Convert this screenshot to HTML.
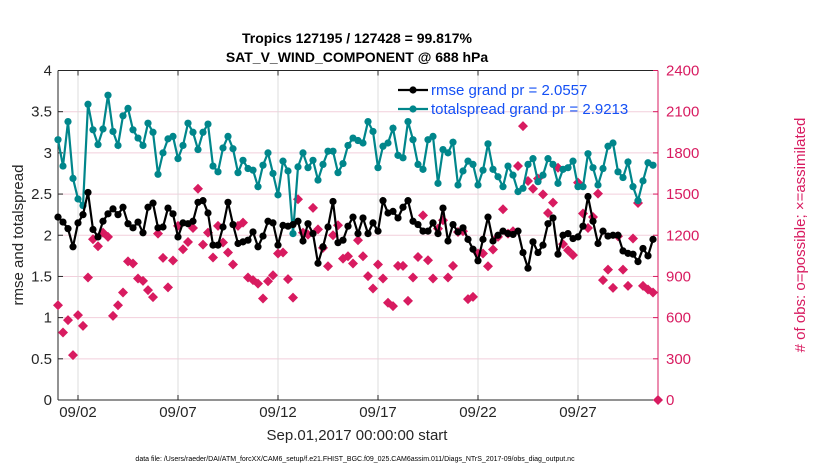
<!DOCTYPE html>
<html><head><meta charset="utf-8"><style>
body{margin:0;background:#fff;width:830px;height:470px;overflow:hidden}
text{font-family:"Liberation Sans",sans-serif}
</style></head><body>
<svg id="c" width="830" height="470" xmlns="http://www.w3.org/2000/svg"></svg>
<script>
const dayTicks=[2,7,12,17,22,27];
const dayLabels=["09/02","09/07","09/12","09/17","09/22","09/27"];
const leftTicks=[0,0.5,1,1.5,2,2.5,3,3.5,4];
const rightTicks=[0,300,600,900,1200,1500,1800,2100,2400];
const rmse=[2.22,2.16,2.08,1.86,2.15,2.25,2.52,2.07,1.98,2.17,2.26,2.32,2.25,2.34,2.14,2.09,2.16,2.03,2.34,2.39,2.09,2.1,2.33,2.26,1.98,2.15,2.14,2.17,2.4,2.42,2.27,1.88,1.88,2.1,2.4,2.13,1.9,1.92,1.94,2.04,1.86,1.99,2.17,2.15,1.88,2.12,2.11,2.13,2.17,1.93,2.14,2.02,1.66,1.86,2.1,2.41,1.91,1.94,2.11,2.22,2.02,2.21,2.02,2.15,2.05,2.42,2.27,2.29,2.21,2.34,2.42,2.17,2.13,2.05,2.05,2.15,2.02,2.33,1.93,2.13,2.04,2.09,1.95,1.83,1.69,1.95,2.22,1.93,2.0,2.05,2.02,2.01,2.05,1.79,1.6,1.92,1.79,1.88,2.14,2.21,1.77,2.0,2.02,1.96,1.98,2.11,2.47,2.17,1.9,2.05,1.99,2.0,2.0,1.81,1.78,1.77,1.68,1.84,1.75,1.95];
const spread=[3.16,2.84,3.38,2.69,2.44,2.36,3.59,3.28,3.1,3.29,3.7,3.26,3.09,3.45,3.54,3.28,3.18,3.09,3.36,3.25,2.74,3.0,3.17,3.2,2.93,3.09,3.36,3.25,3.04,3.25,3.35,2.84,2.77,3.06,3.2,3.05,2.76,2.91,2.81,2.79,2.59,2.85,3.0,2.75,2.49,2.9,2.78,2.02,2.83,3.0,2.82,2.91,2.67,2.86,3.02,3.02,2.76,2.87,3.09,3.18,3.15,3.12,3.38,3.26,2.82,3.08,3.12,3.3,2.97,2.94,3.38,3.16,2.86,2.8,3.16,3.2,2.63,3.04,3.0,3.13,2.61,2.78,2.9,2.86,2.61,2.79,3.11,2.8,2.71,2.59,2.84,2.73,2.53,2.57,2.86,2.93,2.65,2.73,2.93,2.86,2.63,2.8,2.82,2.9,2.59,2.59,2.99,2.82,2.61,2.81,3.08,3.12,2.77,2.7,2.89,2.59,2.42,2.66,2.88,2.85];
const obsCount=[690,492,582,327,618,540,892,1171,1120,1219,1188,613,690,783,1010,994,885,868,800,749,1212,1035,820,1016,1268,1098,1151,1253,1539,1132,1219,1038,1268,1147,1074,987,1268,1292,892,873,848,739,865,909,1067,1074,880,746,1462,1219,1205,1399,1243,1108,974,1200,1273,1030,1047,994,1164,1047,902,812,987,885,708,684,977,977,722,892,1042,1345,1018,885,1248,1309,892,977,1224,1229,735,751,1067,1067,974,1096,1188,1389,1212,1229,1704,1995,1595,1539,1612,1498,1362,1438,1692,1135,1091,1055,1583,1358,1253,1333,1503,873,950,817,1193,950,831,1176,1435,831,805,783,0];

const L=58,R=658,T=70.5,B=400;
const x=i=>L+5*i;            // 6-hourly steps, 5px each
const xd=d=>L+20*(d-1);
const yl=v=>B-(B-T)*v/4;
const yr=v=>B-(B-T)*v/2400;
const svg=document.getElementById('c');
const NS='http://www.w3.org/2000/svg';
function mk(t,a,p){const e=document.createElementNS(NS,t);for(const k in a)e.setAttribute(k,a[k]);(p||svg).appendChild(e);return e;}

// grid
const g=mk('g',{});


leftTicks.forEach(v=>{if(v>0&&v<4)mk('line',{x1:L,x2:R,y1:yl(v),y2:yl(v),stroke:'#f2cfdc','stroke-width':1},g);});
dayTicks.forEach(d=>mk('line',{x1:xd(d),x2:xd(d),y1:T,y2:B,stroke:'#dcdcdc','stroke-width':1},g));

// axes
const ax=mk('g',{});


mk('line',{x1:L,x2:R,y1:T,y2:T,stroke:'#262626'},ax);
mk('line',{x1:L,x2:R,y1:B,y2:B,stroke:'#262626'},ax);
mk('line',{x1:L,x2:L,y1:T,y2:B,stroke:'#262626'},ax);
mk('line',{x1:R,x2:R,y1:T,y2:B,stroke:'#d81b60'},ax);
leftTicks.forEach(v=>{
  mk('line',{x1:L,x2:L+5,y1:yl(v),y2:yl(v),stroke:'#262626'},ax);
  const t=mk('text',{x:L-6,y:yl(v)+5,'text-anchor':'end','font-size':15,fill:'#262626'},ax);t.textContent=String(v);
  
  
});
rightTicks.forEach(v=>{
  mk('line',{x1:R-5,x2:R,y1:yr(v),y2:yr(v),stroke:'#d81b60'},ax);
  const t=mk('text',{x:R+8,y:yr(v)+5,'font-size':15,fill:'#d81b60'},ax);t.textContent=String(v);
  
  
});
dayTicks.forEach((d,i)=>{
  mk('line',{x1:xd(d),x2:xd(d),y1:B,y2:B-5,stroke:'#262626'},ax);
  mk('line',{x1:xd(d),x2:xd(d),y1:T,y2:T+5,stroke:'#262626'},ax);
  const t=mk('text',{x:xd(d),y:B+17,'text-anchor':'middle','font-size':15,fill:'#262626'},ax);t.textContent=dayLabels[i];
  
  
});

// obs count markers
const og=mk('g',{fill:'#d81b60'});


obsCount.forEach((v,i)=>{const cx=x(i),cy=yr(v);
  const p=mk('path',{d:`M${cx-5},${cy}L${cx},${cy-5}L${cx+5},${cy}L${cx},${cy+5}Z`},og);
  
  
});

function series(arr,col,name){
  const gg=mk('g',{});
  
  
  mk('polyline',{points:arr.map((v,i)=>x(i)+','+yl(v)).join(' '),fill:'none',stroke:col,'stroke-width':2.2},gg);
  arr.forEach((v,i)=>{const c=mk('circle',{cx:x(i),cy:yl(v),r:3.6,fill:col},gg);
    
    });
}
series(spread,'#00868b','totalspread-series');
series(rmse,'#000000','rmse-series');

// legend
const lg=mk('g',{});


[[90,'#000','rmse grand pr = 2.0557'],[109,'#00868b','totalspread grand pr = 2.9213']].forEach(r=>{
  mk('line',{x1:398,x2:428,y1:r[0],y2:r[0],stroke:r[1],'stroke-width':2.2},lg);
  mk('circle',{cx:413,cy:r[0],r:3.6,fill:r[1]},lg);
  const t=mk('text',{x:431,y:r[0]+5,'font-size':15,fill:'#1450f5'},lg);t.textContent=r[2];
  
  
});
</script>
<svg width="830" height="470" style="position:absolute;left:0;top:0">
<text x="357" y="43" text-anchor="middle" font-size="14" font-weight="bold" fill="#000">Tropics 127195 / 127428 = 99.817%</text>
<text x="357" y="62" text-anchor="middle" font-size="14" font-weight="bold" fill="#000">SAT_V_WIND_COMPONENT @ 688 hPa</text>
<text x="357" y="440" text-anchor="middle" font-size="15" fill="#262626">Sep.01,2017 00:00:00 start</text>
<text transform="translate(23,235) rotate(-90)" text-anchor="middle" font-size="15" fill="#262626">rmse and totalspread</text>
<text transform="translate(805,235) rotate(-90)" text-anchor="middle" font-size="15" fill="#d81b60"># of obs: o=possible; ×=assimilated</text>
<text x="355" y="461" text-anchor="middle" font-size="7" fill="#000">data file: /Users/raeder/DAI/ATM_forcXX/CAM6_setup/f.e21.FHIST_BGC.f09_025.CAM6assim.011/Diags_NTrS_2017-09/obs_diag_output.nc</text>
</svg>
</body></html>
